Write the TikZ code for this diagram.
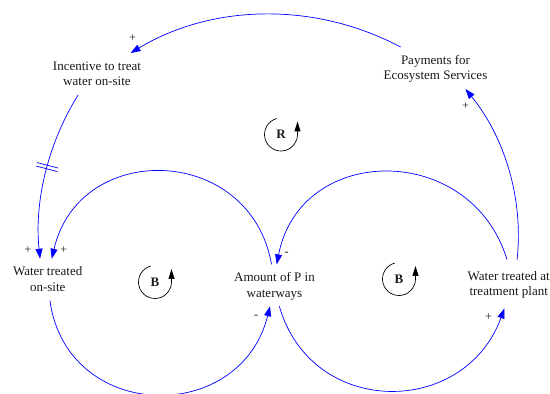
\documentclass[tikz,border=0pt]{standalone}
\usepackage{fontspec}
\setmainfont{Liberation Serif}
\usetikzlibrary{arrows.meta, decorations.markings}
\definecolor{linkcolor}{RGB}{0,0,255}
\definecolor{labelcolor}{RGB}{25,25,25}
\tikzset{
    var/.style={align=center, text=labelcolor, font=\fontsize{13}{15.5}\selectfont,
        text height=27pt, text depth=3.5pt, inner xsep=3pt, inner ysep=5.5pt},
    link/.style={draw=linkcolor, line width=0.7pt, -{Triangle[length=10pt,width=7pt]}},
    pol/.style={text=labelcolor, font=\fontsize{12}{12}\selectfont, inner sep=0pt},
    delay/.style={postaction={decorate}, decoration={markings, mark=at position #1 with
        {\draw[linkcolor, line width=0.7pt, -] (-1.8pt,-11pt) -- (-1.8pt,11pt) (1.8pt,-11pt) -- (1.8pt,11pt);}}},
    loopletter/.style={font=\fontsize{13}{13}\selectfont\bfseries, text=labelcolor, inner sep=0pt},
    looparrow/.style={draw=black, line width=0.7pt, -{Triangle[length=10pt,width=6pt]}}
}
\newcommand{\loopmark}[3]{%
    \node[loopletter] (#1) at (#2) {#3};
    \draw[looparrow] (#1.center) ++(105:16.5pt) arc[start angle=105, end angle=360, radius=16.5pt] -- ++(0,13pt);
}

\begin{document}
\begin{tikzpicture}[x=1pt, y=1pt]
    \useasboundingbox (0,0) rectangle (550,394);

    \node[var] (inc) at (97,320) {Incentive to treat\\water on-site};
    \node[var] (pay) at (435.5,326) {Payments for\\Ecosystem Services};
    \node[var] (ons) at (47.7,114.3) {Water treated\\on-site};
    \node[var] (amt) at (274.5,108.7) {Amount of P in\\waterways};
    \node[var, inner ysep=9pt] (plant) at (508.7,110) {Water treated at\\treatment plant};

    \loopmark{loopR}{281,259.5}{R}
    \loopmark{loopBl}{155,112}{B}
    \loopmark{loopBr}{399,115}{B}

    \draw[link] (pay.149) to[out=152, in=31, looseness=0.91] node[pol, pos=1, xshift=2pt, yshift=15pt] {+} (inc.32);
    \draw[link] (plant.71) to[out=84, in=-51, looseness=0.89] node[pol, pos=1, yshift=-17pt] {+} (pay.-35);
    \draw[link, delay=0.46] (inc.228) to[out=238, in=96, looseness=0.87] node[pol, pos=1, xshift=-12pt, yshift=9pt] {+} (ons.110);
    \draw[link] (amt.98) to[out=100, in=77, looseness=1.42] node[pol, pos=1, xshift=12pt, yshift=9pt] {+} (ons.79);
    \draw[link] (plant.94) to[out=107, in=79, looseness=1.37] node[pol, pos=1, xshift=10pt, yshift=10pt] {-} (amt.84);
    \draw[link] (ons.-84) to[out=-82, in=-104, looseness=1.43] node[pol, pos=1, xshift=-14pt, yshift=-11pt] {-} (amt.-102);
    \draw[link] (amt.-77) to[out=-74, in=-110, looseness=1.32] node[pol, pos=1, xshift=-16pt, yshift=-9pt] {+} (plant.-100);

\end{tikzpicture}
\end{document}
